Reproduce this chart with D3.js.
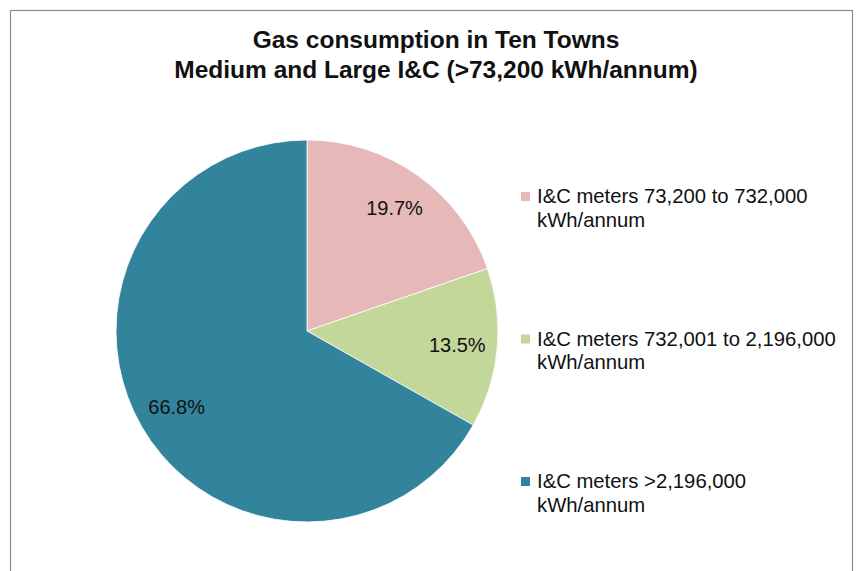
<!DOCTYPE html>
<html>
<head>
<meta charset="utf-8">
<script src="https://cdn.jsdelivr.net/npm/d3@7"></script>
<style>
  body { margin: 0; background: #fff; }
  text { font-family: "Liberation Sans", Arial, sans-serif; fill: #111; }
</style>
</head>
<body>
<script>
// chart data
var categories = [
  ["I&C meters 73,200 to 732,000", "kWh/annum"],
  ["I&C meters 732,001 to 2,196,000", "kWh/annum"],
  ["I&C meters >2,196,000", "kWh/annum"]
];
var shares = [19.7, 13.5, 66.8];
var sliceColors = ["#e6b9b8", "#c4d79b", "#31849b"];
var titleLines = ["Gas consumption in Ten Towns", "Medium and Large I&C (>73,200 kWh/annum)"];

main();

function main() {
  setupCanvas();
  drawFrame();
  addTitle();
  drawPie();
  addLegend();
}

function setupCanvas() {
  width = 864;
  height = 571;
  svg = d3.select("body").append("svg")
    .attr("width", width)
    .attr("height", height);
}

function drawFrame() {
  svg.append("rect")
    .attr("x", 10.5).attr("y", 10.5)
    .attr("width", 842).attr("height", 580)
    .attr("fill", "#fff")
    .attr("stroke", "#8c8c8c")
    .attr("stroke-width", 1.2);
}

function addTitle() {
  svg.selectAll("text.title")
    .data(titleLines)
    .enter().append("text")
    .attr("class", "title")
    .attr("x", 436)
    .attr("y", function (d, i) { return 48 + i * 30; })
    .attr("text-anchor", "middle")
    .style("font-size", "24.5px")
    .style("font-weight", "bold")
    .text(function (d) { return d; });
}

function drawPie() {
  var radius = 191;
  var g = svg.append("g").attr("transform", "translate(307,331)");

  var pie = d3.pie().sort(null).value(function (d) { return d; });
  var arc = d3.arc().innerRadius(0).outerRadius(radius);
  var labelArc = d3.arc().innerRadius(radius * 0.79).outerRadius(radius * 0.79);

  var arcs = pie(shares);

  g.selectAll("path")
    .data(arcs)
    .enter().append("path")
    .attr("d", arc)
    .attr("fill", function (d, i) { return sliceColors[i]; })
    .attr("stroke", "#fff")
    .attr("stroke-width", 0.8);

  g.selectAll("text.pct")
    .data(arcs)
    .enter().append("text")
    .attr("class", "pct")
    .attr("transform", function (d) { return "translate(" + labelArc.centroid(d) + ")"; })
    .attr("text-anchor", "middle")
    .attr("dy", "0.35em")
    .style("font-size", "20px")
    .text(function (d) { return d.data.toFixed(1) + "%"; });
}

function addLegend() {
  var y = d3.scalePoint().domain(d3.range(categories.length)).range([196, 481]);

  var item = svg.selectAll("g.legend")
    .data(categories)
    .enter().append("g")
    .attr("class", "legend")
    .attr("transform", function (d, i) { return "translate(521," + y(i) + ")"; });

  item.append("rect")
    .attr("x", 0).attr("y", -4)
    .attr("width", 9).attr("height", 9)
    .attr("fill", function (d, i) { return sliceColors[i]; });

  item.append("text")
    .attr("x", 16)
    .attr("y", 0)
    .style("font-size", "20.3px")
    .selectAll("tspan")
    .data(function (d) { return d; })
    .enter().append("tspan")
    .attr("x", 16)
    .attr("dy", function (d, i) { return i === 0 ? "0.35em" : "1.16em"; })
    .text(function (d) { return d; });
}
</script>
</body>
</html>
